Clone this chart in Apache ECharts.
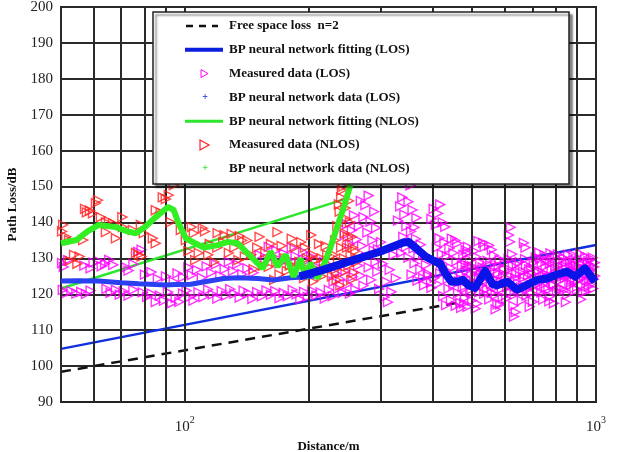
<!DOCTYPE html>
<html>
<head>
<meta charset="utf-8">
<script src="https://cdn.jsdelivr.net/npm/echarts@6/dist/echarts.min.js"></script>
<style>html,body{margin:0;padding:0;background:#fff}#c{width:628px;height:452px}</style>
</head>
<body>
<div id="c"></div>
<script>
// ---------- data ----------
const yTicks = [90,100,110,120,130,140,150,160,170,180,190,200];
const xGridValues = [50,60,70,80,90,100,200,300,400,500,600,700,800,900,1000];
const legendNames = ['Free space loss  n=2','BP neural network fitting (LOS)','Measured data (LOS)','BP neural network data (LOS)','BP neural network fitting (NLOS)','Measured data (NLOS)','BP neural network data (NLOS)'];

const freeSpace = [[50,98.4],[475,117.9]];
const losLinear = [[50,104.8],[1000,133.7]];
const nlosFitting = [[50,121.6],[245,146.5]];

const bpLosData = [[50,123.7],[55,123.8],[61.8,123.7],[70,123.2],[77.3,122.9],[85,122.7],[89.9,122.6],[95,122.7],[103.4,122.8],[112,123.5],[124.4,124.4],[135,124.6],[150.4,124.4],[164.4,124],[180.8,124.6],[198.9,124.9],[210,125.2]];

const bpLosFitting = [[190,125],[214,126.6],[257,129.5],[299,131.9],[340,134.4],[350,134.6],[368,132.5],[385,130.5],[400,129.5],[418,128.5],[432,125.5],[445,123.5],[460,123.5],[475,124],[490,122.5],[508,121.8],[538,126.5],[560,122.8],[575,122.5],[608,123.5],[643,121.3],[680,122.6],[720,124],[760,124.4],[795,125.3],[850,126.3],[890,124.9],[940,127.2],[995,123.5]];

const bpNlosData = [[50,134.2],[54.5,135.1],[58,137.5],[61.8,139.3],[68,138.7],[72,137.6],[76,137],[80,138.7],[85,141.5],[91,144.3],[94,143.5],[96.5,139.8],[100.6,135.6],[106,134.2],[111.2,133],[120.2,133.7],[127.2,134.6],[134.5,134.2],[142.2,131.4],[150.4,128.6],[154.7,127.2],[161.8,131.9],[168.2,127.7],[175.9,131],[183.9,124.9],[191.2,130],[196.6,124.5],[202.2,128.7],[210.3,124.5],[217.5,128],[226,133],[235.1,139],[243.2,144],[252.9,150.5]];

const measuredNlos = [[50.3,137.5],[50.6,139.3],[51.5,136],[52.3,135.1],[52.5,129.3],[53.8,131],[54.8,128.5],[55.5,130.5],[56.6,135.1],[57.2,143.8],[57.8,142.8],[58.8,143.3],[59.8,142.5],[60.8,145.4],[61.5,146.2],[62.5,141.5],[64.3,140],[65.4,140.3],[66.9,139.8],[64.3,137.3],[68,135.6],[70.5,141.5],[70.7,138.7],[74.8,137.9],[76.1,131.5],[77.3,131],[78.2,139.3],[78.5,130.5],[79.5,137],[83.6,135.6],[85,134.2],[85,143.4],[87.4,142.8],[88.4,147],[89.9,146.5],[91.4,147.6],[94,150.4],[92.5,140.1],[97.8,137.9],[100.6,135.1],[105.2,137],[108.1,131.5],[110.6,138.4],[104,138.7],[112,137.5],[120.2,137],[125,136.5],[130,136.8],[136,136.2],[115,134],[120,133],[128,131.5],[135,129.5],[140,130.5],[145,131],[150,133],[155,128],[160,127.6],[165,124],[168,137.3],[170,125.5],[175,130],[180,128],[185,133],[190,129],[196,133],[200,127],[205,131],[210,126.8],[215,130],[220,133.5],[225,128],[230,131],[232,135],[235,139],[238,143],[240,147],[243,150],[245,137],[248,133],[250,128],[233,127],[242,126],[253,131],[255,136],[247,141],[258,126],[262,129],[215,125],[195,124.5],[205,123.5],
[142,135],[147,127],[152,136],[157,131.5],[162,134],[167,129],[172,133.5],[177,126.5],[182,135.5],[187,127.5],[192,134.5],[198,130],[203,136.5],[208,129.5],[212,134],[218,127],[222,131],[228,125],[236,129.5],[240,133],[244,130],[249,136],[252,140],[256,133],[237,145],[241,149],[246,144],[251,146],[234,124],[239,122.5],[254,124],[260,132],
[102,132],[106,129.5],[114,131],[118,129],[124,134.5],[132,133],[138,135]];

const measuredLos = [
[50.3,128.7],[50.8,127.6],[52,129.5],[57,128],[59,127.2],[60,128.8],[61.5,129.3],[62.8,127.8],[64,128.5],[65.5,129.6],[67,128.2],[72,127.5],[73,126.6],[75,128.4],[77,131.8],[78.5,132.4],[80,125.5],[83,126.2],[86,124.3],[90,125],[94,123.5],[96,125.8],[99,124.8],
[50.5,121.2],[51.5,120.3],[53,120.9],[54.5,120.2],[56,120.7],[57.5,120.1],[59,121],[64.5,121.5],[66,120.4],[68,121.2],[69.5,119.9],[71,120.8],[73,119.6],[75,121.3],[79,120.5],[81,119.3],[83,120.2],[85,117.8],[87,119.6],[89,118.2],[91,120.6],[93,117.5],[95,119],[97,117.9],[99,120.2],
[102,127.5],[104,125.3],[107,126.8],[110,124.6],[113,127.8],[116,126],[119,128.3],[122,125.2],[125,127],[128,129],[131,126.5],[134,128.4],[138,125.6],[142,127.2],[147,126],[152,131],[157,129.5],[160,133.2],[164,130.5],[167,132.2],[170,128.6],[174,131.4],[178,129.8],[182,133],[186,130.6],[190,128.8],[194,131.8],[198,129.4],[203,130.5],[208,127.8],[213,126.5],[218,129],
[101,121],[103,119.3],[105,118.2],[108,120.5],[111,119.2],[114,121.3],[117,120],[120,118.8],[123,120.9],[126,119.6],[129,121.4],[132,120.2],[136,119.1],[139,121],[143,120.3],[146,118.7],[150,120.6],[154,119.4],[158,121.1],[162,119.8],[166,120.9],[170,118.9],[174,120.4],[178,119.5],[183,121.2],[187,120],[191,118.6],[195,120.7],[199,119.3],[204,121],[209,119.7],[214,120.5],[219,118.8],[224,121.2],[229,119.5],
[245,136.5],[248,139.5],[252,134],[255,137.8],[258,142],[262,135.2],[265,139],[268,146],[270,133.5],[272,141.5],[275,144.8],[278,137.2],[280,147.5],[283,140.2],[286,135],[289,143],[292,138.5],[295,132.5],
[230,123.5],[233,125.8],[236,121.6],[239,124.2],[242,120.4],[246,126.5],[249,122.8],[252,120.2],[256,124.9],[260,121.3],[264,128],[268,125.2],[272,122.4],[276,130.5],[280,127.5],[284,124],[288,132.2],[291,129],[294,126.3],[297,121.5],[300,134.5],[303,128.5],[306,119.2],[309,123.5],[312,117.8],[315,126.8],[318,120.7],[322,131],[326,124.5],
[330,140.5],[334,144.5],[338,147],[342,142.2],[346,139],[350,145.8],[354,150.3],[358,143.5],[362,138.6],[366,141.3],
[336,131.5],[340,136],[345,133.2],[350,130.2],[355,137.5],[360,132.8],[365,135.4],[370,130.5],[375,133.8],[380,131],
[356,125.5],[362,128.6],[368,123.8],[374,127],[380,124.5],[386,128.2],[392,125.6],[397,123.2],
[398,141],[403,143.8],[408,139.3],[413,142.5],[418,145],[424,140],[430,138.8],
[410,133],[416,135.6],[422,131.2],[428,134.4],[434,130.6],[440,132.8],[446,135.5],[450,131.5],
[382,122.5],[390,125.2],[398,121.8],[405,124.6],[412,122.8],[418,125.8],
[425,119.5],[432,117],[438,121.6],[444,118.4],[450,122.6],[456,116.8],[462,120.3],[468,117.6],[474,122],[480,119],[487,116.5],[494,121.2],[500,118.3],[507,122.8],[514,117.4],[520,120.6],
[476,131],[482,128.2],[488,133.2],[494,129.5],[500,127.8],[506,132],[512,130.4],[518,134.8],[523,128.8],
[470,125.5],[478,123.8],[485,126.6],[492,124.2],[498,125.9],[505,123.3],[512,126.2],[520,124.6],[527,122.5],
[420,128.8],[428,126.9],[436,124.3],[444,127.3],[452,125.1],[458,129.2],[464,123.6],[472,128],[480,121.7],[490,127.9],[498,120.6],[508,126.8],[516,122.9],[525,126.1],
[530,127.5],[535,120.2],[540,124.8],[545,129.3],[550,118.6],[555,122.9],[560,126.4],[565,130.8],[570,119.8],[575,124],[580,127.9],[585,117.2],[590,121.6],[595,125.7],[600,129.1],[605,118.8],[610,123.2],[615,126.9],[620,120.5],[625,131.2],[630,116.8],[636,124.5],[642,128.4],[648,121],[654,126],[660,118.2],[666,123.7],[672,129.8],[678,119.6],[684,125.2],[690,122],[696,127.3],[702,117.9],[708,124.1],[714,130.2],[720,120.7],[726,126.6],[732,123.3],[738,128.7],[744,118.5],[750,125],[756,121.8],[762,129.4],[768,124.6],[774,119.4],[780,127],[786,122.7],[792,130.6],[798,125.8],[804,120.9],[810,128],[816,123.9],[822,126.8],[828,121.5],[834,130.1],[840,124.4],[846,127.7],[852,119.9],[858,125.3],[864,129.2],[870,122.6],[876,126.5],[882,130.9],[888,123.4],[894,127.9],[900,121.2],[906,125.7],[912,129.7],[918,124.2],[924,127.3],[930,120.6],[936,126.1],[942,130.4],[948,123.8],[954,128.5],[960,122.1],[966,126.9],[972,129.9],[978,124.7],[984,121.6],[990,127.6],[995,125.1],
[532,123.6],[538,126.7],[543,121.4],[548,125.6],[553,128.1],[558,120.4],[563,124.3],[568,127.6],[573,122.1],[578,125.9],[583,129.6],[588,123.5],[593,119.3],[598,127],[603,124.6],[608,121.9],[613,129.8],[618,125.1],[623,122.4],[628,127.9],[634,119.9],[640,125.6],[646,123.1],[652,129],[658,121.9],[664,126.3],[670,124.8],[676,128.2],[682,121.3],[688,126.9],[694,120.4],[700,125.7],[706,128.8],[712,122.5],[718,126.2],[724,124.1],[730,129.9],[736,120.5],[742,126],[748,122.9],[754,127.9],[760,125.4],[766,121.2],[772,128.5],[778,124.3],[784,129.6],[790,122.4],[796,127.1],[802,124.6],[808,131.1],[814,121.8],[820,129.5],[826,124.9],[832,127.4],[838,121.1],[844,128.9],[850,125.6],[856,131],[862,123.2],[868,127.6],[874,124.1],[880,128.3],[886,121.7],[892,129.4],[898,126.2],[904,123.9],[910,127.4],[916,131.3],[922,122.4],[928,128.1],[934,124.9],[940,127.1],[946,120.8],[952,125.9],[958,129.3],[964,123.6],[970,127.8],[976,122.9],[982,130.2],[988,124.2],[994,128.8],
[455,135],[460,134.2],[482,132.3],[486,131.5],[532,134.3],[536,133.2],[550,133.6],[558,132.4],[620,138.6],[614,136.5],[618,134.6],[668,134.3],[674,133],[728,131.6],[750,130.8],[775,131.4],[955,128.6],[970,126.5],
[470,116.2],[478,117.5],[570,115.8],[576,117.2],[632,113.8],[638,115],[510,116],[770,118],[790,117.5],[690,116.5],[845,117.8],[920,118.6]
];

// ---------- chart ----------
const serif = 'Liberation Serif, Times New Roman, serif';
const chart = echarts.init(document.getElementById('c'), null, {renderer: 'canvas'});

const rowY = i => 26 + i * 23.8;
const legendGraphics = [
  {type:'rect', z:100, shape:{x:153, y:12, width:416, height:172},
   style:{fill:'#fff', stroke:'#222', lineWidth:1.5, shadowBlur:2, shadowOffsetX:3, shadowOffsetY:3, shadowColor:'rgba(0,0,0,0.45)'}},
  {type:'line', z:101, shape:{x1:186, y1:rowY(0), x2:218, y2:rowY(0)}, style:{stroke:'#111', lineWidth:2.5, lineDash:[7,6]}},
  {type:'line', z:101, shape:{x1:185, y1:rowY(1), x2:223, y2:rowY(1)}, style:{stroke:'#0a1ee0', lineWidth:4}},
  {type:'polygon', z:101, shape:{points:[[201,rowY(2)-4],[208,rowY(2)],[201,rowY(2)+4]]}, style:{fill:'none', stroke:'#f0f', lineWidth:1}},
  {type:'text', z:101, x:205, y:rowY(3), style:{text:'+', fill:'#1a2cf0', fontSize:10, fontWeight:'bold', align:'center', verticalAlign:'middle', fontFamily:serif}},
  {type:'line', z:101, shape:{x1:185, y1:rowY(4), x2:223, y2:rowY(4)}, style:{stroke:'#2ee62e', lineWidth:3}},
  {type:'polygon', z:101, shape:{points:[[200,rowY(5)-5],[209,rowY(5)],[200,rowY(5)+5]]}, style:{fill:'none', stroke:'#f22', lineWidth:1.2}},
  {type:'text', z:101, x:205, y:rowY(6), style:{text:'+', fill:'#2ee62e', fontSize:10, fontWeight:'bold', align:'center', verticalAlign:'middle', fontFamily:serif}}
];
legendNames.forEach((n, i) => {
  legendGraphics.push({type:'text', z:101, x:229, y:rowY(i),
    style:{text:n, fill:'#111', fontSize:13, fontWeight:'bold', fontFamily:serif, align:'left', verticalAlign:'middle'}});
});

const hollowTri = (color, size) => ({
  symbol:'triangle', symbolRotate:-90, symbolSize:size,
  itemStyle:{color:'rgba(0,0,0,0)', borderColor:color, borderWidth:1.4}
});

const option = {
  animation:false,
  backgroundColor:'#fff',
  grid:{left:61, right:32, top:7, bottom:50, show:true, borderColor:'#222', borderWidth:2, outerBoundsMode:'none'},
  xAxis:{
    type:'log', logBase:10, min:50, max:1000,
    name:'Distance/m', nameLocation:'middle', nameGap:33,
    nameTextStyle:{fontFamily:serif, fontWeight:'bold', fontSize:13, color:'#111'},
    axisLine:{show:true, lineStyle:{color:'#222', width:2}},
    axisTick:{show:false},
    splitLine:{show:false},
    axisLabel:{
      margin:13,
      formatter:function(v){
        if (Math.abs(v-100) < 1e-6) return '{a|10}{b|2}';
        if (Math.abs(v-1000) < 1e-6) return '{a|10}{b|3}';
        return '';
      },
      rich:{
        a:{fontFamily:serif, fontSize:15, color:'#222', verticalAlign:'bottom', lineHeight:20},
        b:{fontFamily:serif, fontSize:10, color:'#222', verticalAlign:'top', lineHeight:20}
      }
    }
  },
  yAxis:{
    type:'value', min:90, max:200, interval:10,
    name:'Path Loss/dB', nameLocation:'middle', nameGap:35,
    nameTextStyle:{fontFamily:serif, fontWeight:'bold', fontSize:13, color:'#111'},
    axisLine:{show:true, lineStyle:{color:'#222', width:2}},
    axisTick:{show:false},
    axisLabel:{fontFamily:serif, fontSize:15, color:'#222', margin:8,
      formatter:function(v){ return yTicks.indexOf(v) >= 0 ? String(v) : ''; }},
    splitLine:{show:true, lineStyle:{color:'#2a2a2a', width:2}}
  },
  graphic:legendGraphics,
  series:[
    {type:'line', name:'vgrid', data:[], silent:true, z:1,
     markLine:{silent:true, symbol:['none','none'], label:{show:false},
       lineStyle:{color:'#2a2a2a', width:2, type:'solid'},
       emphasis:{disabled:true},
       data:xGridValues.map(v => ({xAxis:v}))}},
    {type:'line', name:legendNames[0], data:freeSpace, symbol:'none', z:3,
     lineStyle:{color:'#111', width:2.5, type:[10,7]}},
    {type:'line', name:'LOS linear', data:losLinear, symbol:'none', z:3,
     lineStyle:{color:'#1030e0', width:2.5}},
    {type:'line', name:legendNames[4], data:nlosFitting, symbol:'none', z:3,
     lineStyle:{color:'#2ee62e', width:2.5}},
    Object.assign({type:'scatter', name:legendNames[2], data:measuredLos, z:4}, hollowTri('#f0f', 9)),
    Object.assign({type:'scatter', name:legendNames[5], data:measuredNlos, z:5}, hollowTri('#f22', 9)),
    {type:'line', name:legendNames[3], data:bpLosData, symbol:'none', z:6,
     lineStyle:{color:'#2a40f2', width:5}},
    {type:'line', name:legendNames[6], data:bpNlosData, symbol:'none', z:6,
     lineStyle:{color:'#33ee22', width:6}},
    {type:'line', name:legendNames[1], data:bpLosFitting, symbol:'none', z:7,
     lineStyle:{color:'#0a14e6', width:8, join:'round'}}
  ]
};
chart.setOption(option);
</script>
</body>
</html>
